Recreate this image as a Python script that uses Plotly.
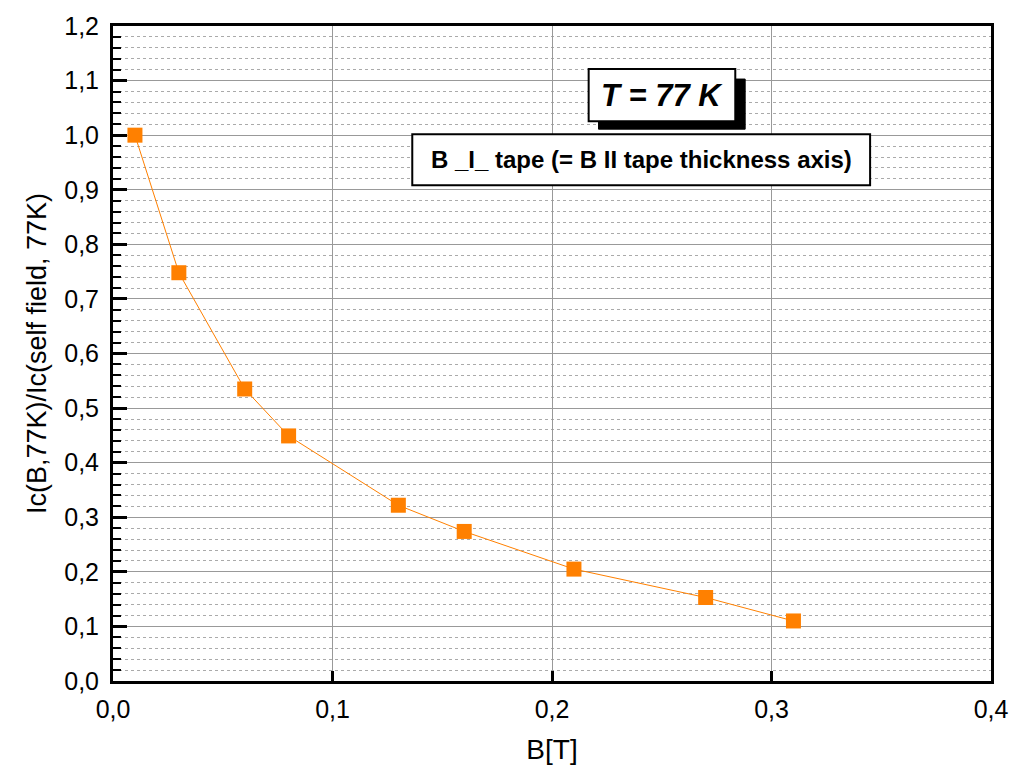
import plotly.graph_objects as go

b_field = [0.01, 0.03, 0.06, 0.08, 0.13, 0.16, 0.21, 0.27, 0.31]
ic_ratio = [1.0, 0.748, 0.535, 0.449, 0.322, 0.274, 0.205, 0.153, 0.110]

x_title = "B[T]"
y_title = "Ic(B,77K)/Ic(self field, 77K)"
label_temp = "T = 77 K"
label_orient = "B _I_ tape (= B II tape thickness axis)"

fig = go.Figure()
fig.add_trace(go.Scatter(
    x=b_field, y=ic_ratio, mode="lines+markers",
    line=dict(color="#FF8000", width=1),
    marker=dict(symbol="square", size=15, color="#FF8000"),
    showlegend=False,
))

font_family = "Liberation Sans, Arial, sans-serif"

fig.update_layout(
    width=1020, height=775,
    margin=dict(l=113, r=21, t=26, b=94),
    paper_bgcolor="white", plot_bgcolor="white",
    separators=",.",
    font=dict(family=font_family, color="black"),
)
fig.update_xaxes(
    range=[0, 0.4], dtick=0.1, tickformat=".1f",
    showline=True, linewidth=3, linecolor="black", mirror=True,
    showgrid=True, gridcolor="#999999", gridwidth=1,
    ticks="inside", ticklen=10, tickwidth=3, tickcolor="black",
    tickfont=dict(size=25), zeroline=False, ticklabelstandoff=4,
    title=dict(text=x_title, font=dict(size=28), standoff=18),
)
fig.update_yaxes(
    range=[0, 1.2], dtick=0.1, tickformat=".1f",
    showline=True, linewidth=3, linecolor="black", mirror=True,
    showgrid=True, gridcolor="#999999", gridwidth=1,
    ticks="inside", ticklen=14, tickwidth=3, tickcolor="black",
    tickfont=dict(size=25), zeroline=False, ticklabelstandoff=6,
    minor=dict(dtick=0.02, ticks="inside", ticklen=8, tickwidth=2, tickcolor="black",
               showgrid=True, gridcolor="#AAAAAA", griddash="dot", gridwidth=1),
    title=dict(text=y_title, font=dict(size=27), standoff=10),
)

# T = 77 K box with shadow
fig.add_shape(type="rect", xref="x", yref="y", x0=0.2212, x1=0.288, y0=1.011, y1=1.1028,
              fillcolor="black", line=dict(color="black", width=1), layer="above")
fig.add_shape(type="rect", xref="x", yref="y", x0=0.2167, x1=0.2835, y0=1.0257, y1=1.121,
              fillcolor="white", line=dict(color="black", width=2), layer="above")
fig.add_annotation(x=(0.2167 + 0.2835) / 2, y=(1.0257 + 1.121) / 2, xref="x", yref="y",
                   text="<b><i>" + label_temp + "</i></b>", showarrow=False,
                   font=dict(size=31, color="black"))

# orientation box
fig.add_shape(type="rect", xref="x", yref="y", x0=(415 - 113) / 2215, x1=(877 - 113) / 2215,
              y0=(681 - 186) / 545, y1=(681 - 135) / 545,
              fillcolor="white", line=dict(color="black", width=2), layer="above")
fig.add_annotation(x=((415 + 877) / 2 - 113) / 2215, y=(681 - 160.5) / 545, xref="x", yref="y",
                   text="<b>" + label_orient + "</b>", showarrow=False,
                   font=dict(size=24, color="black"))

fig.write_html("out.html")
